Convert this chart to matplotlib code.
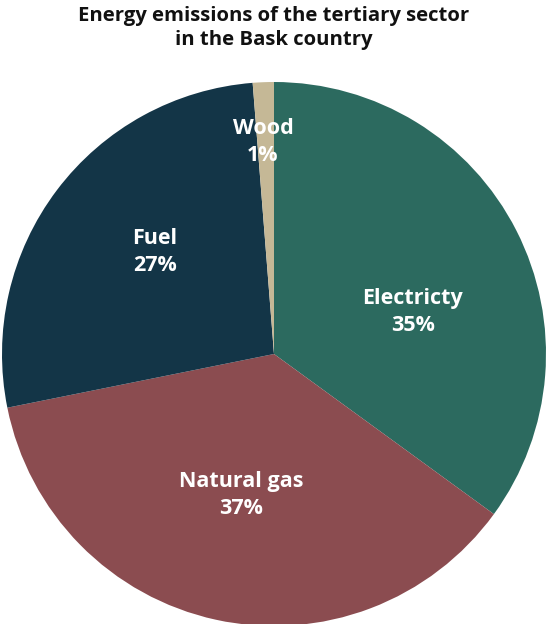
import matplotlib
matplotlib.use("Agg")
import matplotlib.pyplot as plt

# Tertiary-sector energy emissions by source (%)
categories = ["Electricty", "Natural gas", "Fuel", "Wood"]
shares = [35.0, 36.8, 26.9, 1.25]
colors = ["#2c6a5f", "#8b4c50", "#133547", "#c5b896"]

W, H = 547, 624
fig = plt.figure(figsize=(W / 100, H / 100), dpi=100)
ax = fig.add_axes([0, 0, 1, 1])

cx, cy, r = 274, H - 354, 272
ax.pie(shares, colors=colors, startangle=90, counterclock=False,
       center=(cx, cy), radius=r, wedgeprops=dict(linewidth=0))
ax.set_xlim(0, W)
ax.set_ylim(0, H)
ax.set_aspect("equal")
ax.axis("off")

# label anchor points (figure pixel coords, y from top)
label_xy = [(413, 312), (241, 495), (155, 252), (263, 142)]
font = ["Open Sans", "DejaVu Sans"]
for name, val, (lx, ly) in zip(categories, shares, label_xy):
    ax.text(lx, H - ly, f"{name}\n{round(val):.0f}%", ha="center", va="center",
            color="white", fontsize=15.5, fontweight="bold", family=font,
            linespacing=1.35)

ax.text(W / 2, H - 28, "Energy emissions of the tertiary sector\nin the Bask country",
        ha="center", va="center", fontsize=14.6, fontweight="bold",
        family=font, color="#111111", linespacing=1.32)

fig.savefig("out.png", dpi=100)
